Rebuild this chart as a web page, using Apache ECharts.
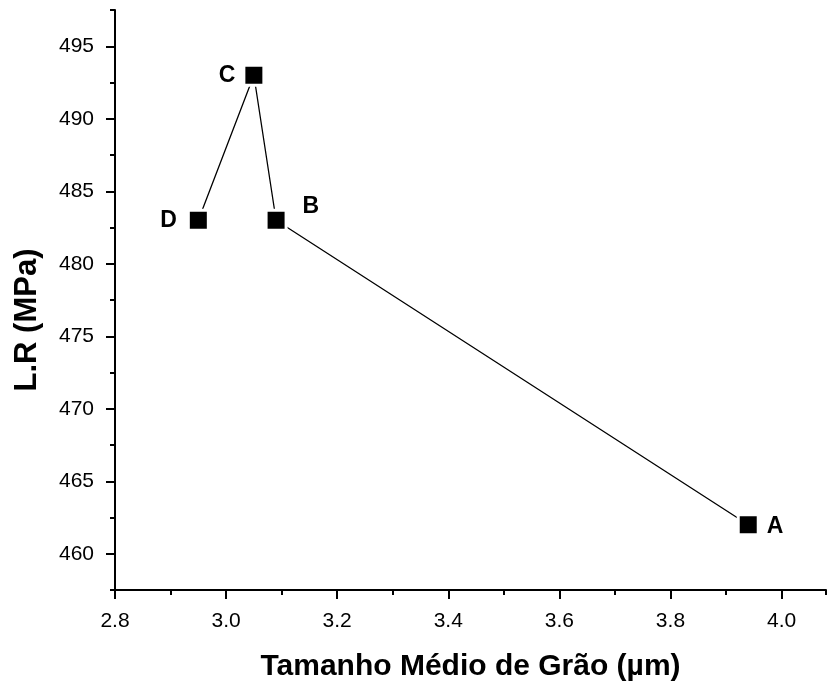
<!DOCTYPE html>
<html><head><meta charset="utf-8">
<script src="https://cdn.jsdelivr.net/npm/echarts@6/dist/echarts.min.js"></script>
<style>html,body{margin:0;padding:0;background:#fff}#c{width:827px;height:684px}</style>
</head><body><div id="c"></div>
<script>
const sampleNames = ['A','B','C','D'];
const grainSize = [3.94, 3.09, 3.05, 2.95];
const strength = [462, 483, 493, 483];
const xMajorTicks = [2.8, 3.0, 3.2, 3.4, 3.6, 3.8, 4.0];
const yMajorTicks = [460, 465, 470, 475, 480, 485, 490, 495];
const labelPos = {A: ['right', [2, 2]], B: ['right', [10, -14]], C: ['left', [-2, 0]], D: ['left', [-5, 0]]};

const font = 'Liberation Sans, Arial, sans-serif';
const chart = echarts.init(document.getElementById('c'));
const axLine = {show: true, lineStyle: {color: '#000', width: 2}};
const xRange = {min: 2.8, max: 4.08};
const yRange = {min: 457.5, max: 497.5};

chart.setOption({
  animation: false,
  grid: {left: 115, right: 1, top: 10, bottom: 94, containLabel: false, outerBoundsMode: 'none'},
  xAxis: [
    Object.assign({type: 'value', interval: 0.1, axisLine: axLine,
      axisTick: {show: true, length: 5, inside: false, lineStyle: {color: '#000', width: 2}},
      axisLabel: {show: false}, splitLine: {show: false}}, xRange),
    Object.assign({type: 'value', position: 'bottom', axisLine: {show: false},
      axisTick: {show: true, length: 9, customValues: xMajorTicks, lineStyle: {color: '#000', width: 2}},
      axisLabel: {show: true, customValues: xMajorTicks, color: '#000', fontSize: 21, fontFamily: font, margin: 21,
        formatter: v => v.toFixed(1)},
      splitLine: {show: false},
      name: 'Tamanho Médio de Grão (µm)', nameLocation: 'middle', nameGap: 62,
      nameTextStyle: {color: '#000', fontSize: 30, fontWeight: 'bold', fontFamily: font}}, xRange)
  ],
  yAxis: [
    Object.assign({type: 'value', interval: 2.5, axisLine: axLine,
      axisTick: {show: true, length: 5, lineStyle: {color: '#000', width: 2}},
      axisLabel: {show: false}, splitLine: {show: false}}, yRange),
    Object.assign({type: 'value', position: 'left', axisLine: {show: false},
      axisTick: {show: true, length: 9, customValues: yMajorTicks, lineStyle: {color: '#000', width: 2}},
      axisLabel: {show: true, customValues: yMajorTicks, color: '#000', fontSize: 21, fontFamily: font, margin: 21},
      splitLine: {show: false},
      name: 'L.R (MPa)', nameLocation: 'middle', nameGap: 72, nameRotate: 90,
      nameTextStyle: {color: '#000', fontSize: 31, fontWeight: 'bold', fontFamily: font, padding: [0, 40, 0, 0]}}, yRange)
  ],
  series: [{
    type: 'line',
    xAxisIndex: 0, yAxisIndex: 0,
    data: grainSize.map((x, i) => ({
      value: [x, strength[i]],
      label: {show: true, formatter: sampleNames[i], position: labelPos[sampleNames[i]][0],
        offset: labelPos[sampleNames[i]][1]}
    })),
    symbol: 'rect', symbolSize: 20,
    itemStyle: {color: '#000', borderColor: '#fff', borderWidth: 3},
    lineStyle: {color: '#000', width: 1.3},
    label: {color: '#000', fontSize: 23, fontWeight: 'bold', fontFamily: font},
    z: 5
  }]
});
</script></body></html>
